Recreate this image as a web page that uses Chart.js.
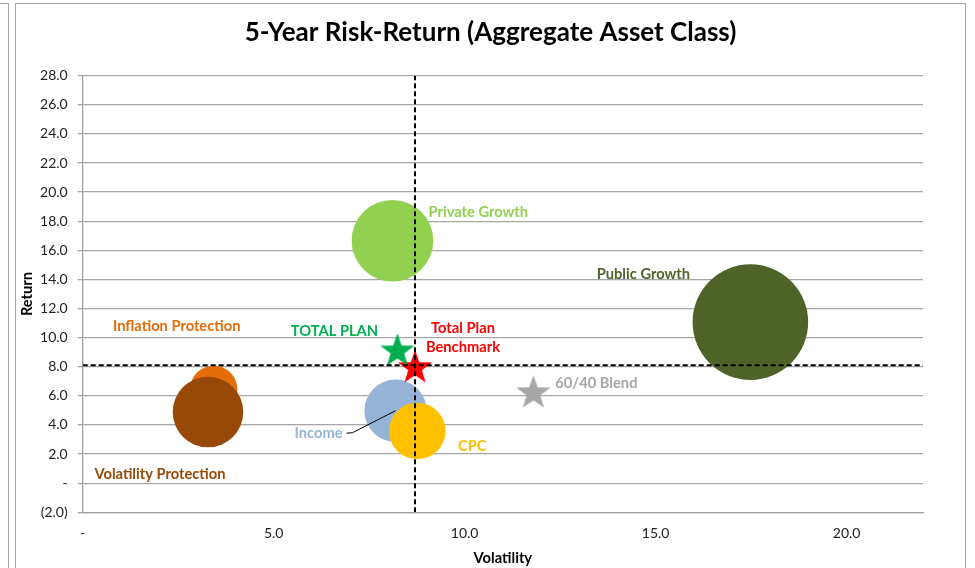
<!DOCTYPE html>
<html>
<head>
<meta charset="utf-8">
<script src="https://cdn.jsdelivr.net/npm/chart.js@4.4.1/dist/chart.umd.min.js"></script>
<style>
html, body { margin: 0; padding: 0; background: #fff; overflow: hidden; }
#wrap { position: relative; width: 975px; height: 568px; }
.frame { position: absolute; border: 1.5px solid #a6a6a6; }
canvas { position: absolute; left: 0; top: 0; }
</style>
</head>
<body>
<div id="wrap">
    <div class="frame" style="left:-100px;top:3px;width:107px;height:700px"></div>
    <div class="frame" style="left:15px;top:3px;width:949px;height:700px"></div>
    <canvas id="chart" width="975" height="568"></canvas>
</div>
<script>
// asset class bubbles
const assetNames = ["Private Growth", "Public Growth", "Inflation Protection", "Volatility Protection", "Income", "CPC"];
const assetVol = [8.11, 17.48, 3.43, 3.28, 8.19, 8.76];
const assetRet = [16.66, 11.07, 6.45, 4.89, 4.98, 3.59];
const assetWeight = [19.4, 38.9, 6.5, 14.5, 11.3, 9.3];

// plan / benchmark stars
const starNames = ["TOTAL PLAN", "Total Plan Benchmark", "60/40 Blend"];
const starVol = [8.24, 8.70, 11.80];
const starRet = [9.07, 7.92, 6.19];

// dashed reference lines
const refVol = 8.7;
const refRet = 8.1;

// axes
const xMin = 0, xMax = 22, xStep = 5;
const yMin = -2, yMax = 28, yStep = 2;

const chartTitle = "5-Year Risk-Return (Aggregate Asset Class)";
const FONT = "Lato, 'Open Sans', sans-serif";

// styles
const assetColors = ["#92D050", "#4F6228", "#E46C0A", "#984807", "#95B3D7", "#FFC000"];
const assetOrder = [5, 5, 6, 5, 6, 5]; // lower = drawn on top
const starColors = ["#00B050", "#FF0000", "#A6A6A6"];
const maxRadius = 57.8;

// label placement (px offset from the point)
const labelStyle = {
    "Private Growth":        { lines: ["Private Growth"], dx: 36, dy: -28, align: "left" },
    "Public Growth":         { lines: ["Public Growth"], dx: -107, dy: -48, align: "center" },
    "Inflation Protection":  { lines: ["Inflation Protection"], dx: -37, dy: -63, align: "center" },
    "Volatility Protection": { lines: ["Volatility Protection"], dx: -48, dy: 62, align: "center" },
    "Income":                { lines: ["Income"], dx: -53, dy: 23, align: "right", leader: [[-49, 22.5], [-43, 22], [0, 0]] },
    "CPC":                   { lines: ["CPC"], dx: 55, dy: 15, align: "center" },
    "TOTAL PLAN":            { lines: ["TOTAL PLAN"], dx: -63, dy: -20, align: "center" },
    "Total Plan Benchmark":  { lines: ["Total Plan", "Benchmark"], dx: 48, dy: -40, align: "center" },
    "60/40 Blend":           { lines: ["60/40 Blend"], dx: 63, dy: -10, align: "center" }
};

function fmt(v) {
    if (v === 0) return "-";
    if (v < 0) return "(" + Math.abs(v).toFixed(1) + ")";
    return v.toFixed(1);
}

// filled 5-point star marker
function makeStar(color, R) {
    const c = document.createElement("canvas");
    const s = Math.ceil(R * 2) + 2;
    c.width = s;
    c.height = s;
    const g = c.getContext("2d");
    const r = R * 0.4;
    g.beginPath();
    for (let k = 0; k < 10; k++) {
        const rad = k % 2 === 0 ? R : r;
        const a = -Math.PI / 2 + k * Math.PI / 5;
        g.lineTo(s / 2 + rad * Math.cos(a), s / 2 + rad * Math.sin(a));
    }
    g.closePath();
    g.fillStyle = color;
    g.fill();
    return c;
}

const datasets = [];

// reference lines on top
datasets.push({
    type: "line",
    data: [{ x: refVol, y: yMin }, { x: refVol, y: yMax }],
    borderColor: "#000", borderWidth: 2, borderDash: [5, 3],
    pointRadius: 0, order: 0
});
datasets.push({
    type: "line",
    data: [{ x: xMin, y: refRet }, { x: xMax, y: refRet }],
    borderColor: "#000", borderWidth: 2, borderDash: [5, 3],
    pointRadius: 0, order: 0
});

starNames.forEach((name, i) => {
    datasets.push({
        type: "scatter",
        label: name,
        data: [{ x: starVol[i], y: starRet[i] }],
        pointStyle: makeStar(starColors[i], 18),
        pointRadius: 18,
        labelColor: starColors[i],
        order: 1
    });
});

assetNames.forEach((name, i) => {
    datasets.push({
        type: "bubble",
        label: name,
        data: [{ x: assetVol[i], y: assetRet[i], r: maxRadius * Math.sqrt(assetWeight[i] / Math.max(...assetWeight)) }],
        backgroundColor: assetColors[i],
        borderWidth: 0,
        labelColor: assetColors[i],
        order: assetOrder[i]
    });
});

// data labels + leader line
const labelPlugin = {
    id: "pointLabels",
    afterDatasetsDraw(chart) {
        const ctx = chart.ctx;
        ctx.save();
        ctx.font = "bold 14.7px " + FONT;
        ctx.textBaseline = "middle";
        chart.data.datasets.forEach((ds, i) => {
            const st = labelStyle[ds.label];
            if (!st) return;
            const pt = chart.getDatasetMeta(i).data[0];
            ctx.fillStyle = ds.labelColor;
            ctx.textAlign = st.align;
            st.lines.forEach((line, k) => {
                ctx.fillText(line, pt.x + st.dx, pt.y + st.dy + k * 19);
            });
            if (st.leader) {
                ctx.strokeStyle = "#000";
                ctx.lineWidth = 1;
                ctx.beginPath();
                st.leader.forEach(([lx, ly], k) => {
                    if (k === 0) ctx.moveTo(pt.x + lx, pt.y + ly);
                    else ctx.lineTo(pt.x + lx, pt.y + ly);
                });
                ctx.stroke();
            }
        });
        ctx.restore();
    }
};

// title centred on the chart frame, not the plot
const titlePlugin = {
    id: "frameTitle",
    afterDraw(chart) {
        const ctx = chart.ctx;
        ctx.save();
        ctx.font = "bold 26px " + FONT;
        ctx.fillStyle = "#000";
        ctx.textAlign = "center";
        ctx.textBaseline = "middle";
        ctx.fillText(chartTitle, 490.5, 33);
        ctx.restore();
    }
};

Chart.defaults.font.family = FONT;
Chart.defaults.color = "#222";

new Chart(document.getElementById("chart"), {
    type: "bubble",
    data: { datasets },
    options: {
        responsive: false,
        animation: false,
        devicePixelRatio: 1,
        layout: { autoPadding: false, padding: { left: 15, right: 52, top: 75.7, bottom: 0 } },
        plugins: {
            legend: { display: false },
            tooltip: { enabled: false },
            title: { display: false }
        },
        scales: {
            x: {
                type: "linear",
                position: "bottom",
                min: xMin, max: xMax,
                ticks: { stepSize: xStep, includeBounds: false, callback: fmt, font: { size: 14 }, padding: 5 },
                grid: { display: false },
                border: { display: true, color: "#a0a0a0", width: 1.3 },
                title: { display: true, text: "Volatility", font: { size: 14.7, weight: "bold" }, color: "#000", padding: { top: 0, bottom: 1 } },
                afterFit(s) { s.height = 55.7; }
            },
            y: {
                type: "linear",
                position: "left",
                min: yMin, max: yMax,
                ticks: { stepSize: yStep, callback: fmt, font: { size: 14 }, padding: 10 },
                grid: { color: "#a6a6a6", lineWidth: 1.3, tickLength: 5 },
                border: { display: true, color: "#a0a0a0", width: 1.3 },
                title: { display: true, text: "Return", font: { size: 14.7, weight: "bold" }, color: "#000", padding: { top: 3, bottom: 0 } },
                afterFit(s) { s.width = 67.7; }
            }
        }
    },
    plugins: [labelPlugin, titlePlugin]
});
</script>
</body>
</html>
